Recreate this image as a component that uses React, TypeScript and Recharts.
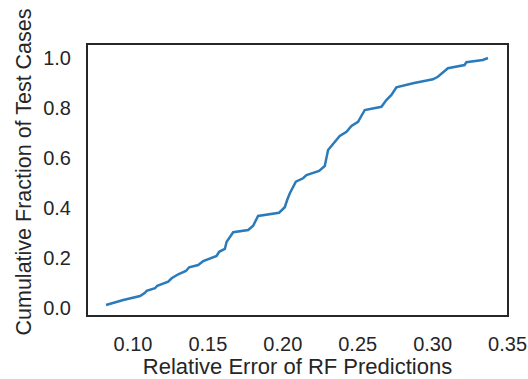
import { LineChart, Line, XAxis, YAxis, ReferenceArea, Label } from "recharts";

// relative error (sorted) vs cumulative fraction of test cases
const relError = [
  0.082, 0.0935, 0.1047, 0.108, 0.1091, 0.1147, 0.1162, 0.1235, 0.1258, 0.1302,
  0.1353, 0.1375, 0.1435, 0.1469, 0.1558, 0.1575, 0.1613, 0.1625, 0.1669, 0.1769,
  0.1802, 0.1835, 0.1975, 0.2013, 0.2029, 0.2047, 0.2087, 0.2135, 0.2158, 0.2242,
  0.228, 0.2302, 0.238, 0.2425, 0.2458, 0.2502, 0.2547, 0.2658, 0.2691, 0.2725,
  0.2758, 0.2869, 0.3002, 0.3035, 0.3102, 0.3213, 0.3225, 0.3335, 0.3369,
];
const cumFraction = [
  0.012, 0.032, 0.048, 0.061, 0.069, 0.079, 0.089, 0.105, 0.119, 0.135,
  0.148, 0.163, 0.172, 0.188, 0.208, 0.225, 0.236, 0.265, 0.303, 0.312,
  0.329, 0.368, 0.381, 0.403, 0.432, 0.459, 0.505, 0.519, 0.532, 0.548,
  0.568, 0.632, 0.688, 0.705, 0.728, 0.745, 0.792, 0.805, 0.832, 0.852,
  0.883, 0.899, 0.915, 0.925, 0.959, 0.972, 0.983, 0.992, 1.0,
];
const xTicks = [0.1, 0.15, 0.2, 0.25, 0.3, 0.35];
const yTicks = [0, 0.2, 0.4, 0.6, 0.8, 1.0];

const X_DOMAIN: [number, number] = [0.0693, 0.3503];
const Y_DOMAIN: [number, number] = [-0.032, 1.056];

const data = relError.map((x, i) => ({ x, y: cumFraction[i] }));

const INK = "#262626";
const FONT = "'Liberation Sans', Arial, sans-serif";

export default function App() {
  return (
    <div style={{ position: "absolute", left: 0, top: 0, background: "#fff" }}>
      <LineChart
        width={528}
        height={379}
        data={data}
        margin={{ top: 44, right: 20, left: 0, bottom: 0 }}
        style={{ fontFamily: FONT }}
      >
        <XAxis
          dataKey="x"
          type="number"
          domain={X_DOMAIN}
          ticks={xTicks}
          allowDataOverflow
          tickFormatter={(v: number) => v.toFixed(2)}
          axisLine={false}
          tickLine={false}
          tickSize={0}
          tickMargin={21}
          height={63}
          tick={{ fill: INK, fontSize: 20 }}
        >
          <Label
            value="Relative Error of RF Predictions"
            position="insideBottom"
            offset={5}
            style={{ fill: INK, fontSize: 22 }}
          />
        </XAxis>
        <YAxis
          dataKey="y"
          type="number"
          domain={Y_DOMAIN}
          ticks={yTicks}
          allowDataOverflow
          tickFormatter={(v: number) => v.toFixed(1)}
          axisLine={false}
          tickLine={false}
          tickSize={0}
          tickMargin={16}
          width={87}
          tick={{ fill: INK, fontSize: 20 }}
        >
          <Label
            value="Cumulative Fraction of Test Cases"
            angle={-90}
            position="insideLeft"
            offset={0}
            style={{ fill: INK, fontSize: 21.5, textAnchor: "middle" }}
            dx={23}
            dy={-8}
          />
        </YAxis>
        <ReferenceArea
          x1={X_DOMAIN[0]}
          x2={X_DOMAIN[1]}
          y1={Y_DOMAIN[0]}
          y2={Y_DOMAIN[1]}
          fill="none"
          stroke={INK}
          strokeWidth={2}
          ifOverflow="visible"
        />
        <Line
          type="linear"
          dataKey="y"
          stroke="#2b7bba"
          strokeWidth={2.5}
          dot={false}
          isAnimationActive={false}
        />
      </LineChart>
    </div>
  );
}
